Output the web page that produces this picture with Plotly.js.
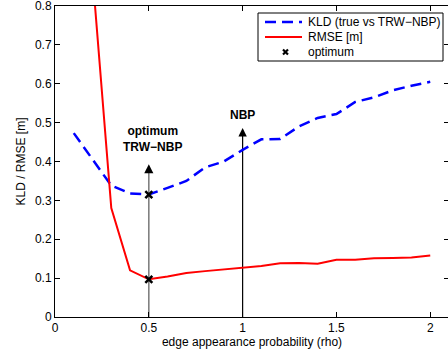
<!DOCTYPE html>
<html>
<head>
<meta charset="utf-8">
<script src="https://cdn.plot.ly/plotly-3.0.1.min.js"></script>
<style>
html,body{margin:0;padding:0;overflow:hidden;background:#fff;}
#chart{width:449px;height:356px;}
</style>
</head>
<body>
<div id="chart"></div>
<script>
const rhoKLD = [0.1,0.2,0.3,0.4,0.5,0.6,0.7,0.8,0.9,1.0,1.1,1.2,1.3,1.4,1.5,1.6,1.7,1.8,1.9,2.0];
const kld = [0.473,0.405,0.338,0.318,0.315,0.332,0.350,0.385,0.400,0.430,0.457,0.458,0.490,0.512,0.522,0.553,0.565,0.583,0.595,0.605];
const rhoRMSE = [0.2,0.3,0.4,0.5,0.6,0.7,0.8,0.9,1.0,1.1,1.2,1.3,1.4,1.5,1.6,1.7,1.8,1.9,2.0];
const rmse = [0.88,0.28,0.12,0.097,0.104,0.113,0.118,0.122,0.127,0.131,0.138,0.139,0.137,0.147,0.147,0.151,0.152,0.153,0.158];
const optX = [0.5,0.5];
const optY = [0.315,0.097];
const xTicks = [0,0.5,1,1.5,2];
const xTickText = ['0','0.5','1','1.5','2'];
const yTicks = [0,0.1,0.2,0.3,0.4,0.5,0.6,0.7,0.8];
const yTickText = ['0','0.1','0.2','0.3','0.4','0.5','0.6','0.7','0.8'];
const legendNames = ['KLD (true vs TRW\u2212NBP)', 'RMSE [m]', 'optimum'];

const font = 'Liberation Sans, Arial, Helvetica, sans-serif';
const blue = '#0000ff', red = '#ff0000';
const kldDash = '11px,6px';

const traces = [
  {x: rhoKLD, y: kld, mode: 'lines', name: legendNames[0],
   line: {color: blue, width: 2.5, dash: kldDash}},
  {x: rhoRMSE, y: rmse, mode: 'lines', name: legendNames[1],
   line: {color: red, width: 2}},
  {x: optX, y: optY, mode: 'markers', name: legendNames[2],
   marker: {symbol: 'x-thin', size: 7, color: '#000', line: {width: 2.5, color: '#000'}}}
];

// plot area in pixels (for the hand-built legend box)
const L = 55, R = 449, T = 6, B = 317;
const px = v => (v - L) / (R - L);
const py = v => 1 - (v - T) / (B - T);

const axisCommon = {
  showgrid: false, zeroline: false, showline: true, linecolor: '#000', linewidth: 1,
  mirror: 'ticks', ticks: 'inside', ticklen: 5, tickcolor: '#000',
  ticklabeloverflow: 'allow',
  tickfont: {family: font, size: 12, color: '#000'}
};

const rows = [22, 37, 52];
const shapes = [
  {type: 'line', xref: 'x', yref: 'y', x0: 0.5, x1: 0.5, y0: 0, y1: 0.385, line: {color: '#808080', width: 1.6}, layer: 'below'},
  {type: 'line', xref: 'x', yref: 'y', x0: 1, x1: 1, y0: 0, y1: 0.475, line: {color: '#000', width: 1.2}, layer: 'below'},
  // legend box
  {type: 'rect', xref: 'paper', yref: 'paper', x0: px(258), x1: px(443), y0: py(61), y1: py(13),
   line: {color: '#000', width: 1}, fillcolor: '#fff', layer: 'above'},
  {type: 'line', xref: 'paper', yref: 'paper', x0: px(265), x1: px(302), y0: py(rows[0]), y1: py(rows[0]),
   line: {color: blue, width: 2.5, dash: kldDash}, layer: 'above'},
  {type: 'line', xref: 'paper', yref: 'paper', x0: px(265), x1: px(302), y0: py(rows[1]), y1: py(rows[1]),
   line: {color: red, width: 2}, layer: 'above'},
  {type: 'line', xref: 'paper', yref: 'paper', x0: px(283), x1: px(288), y0: py(rows[2]-2.5), y1: py(rows[2]+2.5),
   line: {color: '#000', width: 2.2}, layer: 'above'},
  {type: 'line', xref: 'paper', yref: 'paper', x0: px(283), x1: px(288), y0: py(rows[2]+2.5), y1: py(rows[2]-2.5),
   line: {color: '#000', width: 2.2}, layer: 'above'}
];

const annotations = [
  {x: 0.5, y: 0.393, xref: 'x', yref: 'y', ax: 0, ay: 9, showarrow: true, arrowhead: 2, arrowsize: 1.4, arrowwidth: 1.3, arrowcolor: '#000', text: ''},
  {x: 1, y: 0.486, xref: 'x', yref: 'y', ax: 0, ay: 9, showarrow: true, arrowhead: 2, arrowsize: 1.4, arrowwidth: 1.2, arrowcolor: '#000', text: ''},
  {x: 0.52, y: 0.415, xref: 'x', yref: 'y', showarrow: false, align: 'center', yanchor: 'bottom',
   text: '<b>optimum<br>TRW\u2212NBP</b>', font: {family: font, size: 12, color: '#000'}},
  {x: 1, y: 0.52, xref: 'x', yref: 'y', showarrow: false, yanchor: 'middle',
   text: '<b>NBP</b>', font: {family: font, size: 12, color: '#000'}}
];
legendNames.forEach((name, i) => {
  annotations.push({x: px(306), y: py(rows[i]), xref: 'paper', yref: 'paper', xanchor: 'left', yanchor: 'middle',
    showarrow: false, text: name, font: {family: font, size: 12, color: '#000'}});
});

const layout = {
  width: 449, height: 356,
  margin: {l: 55, r: 0, t: 6, b: 39},
  paper_bgcolor: '#fff', plot_bgcolor: '#fff',
  showlegend: false,
  xaxis: Object.assign({}, axisCommon, {range: [0, 2.1], tickvals: xTicks, ticktext: xTickText,
    title: {text: 'edge appearance probability (rho)', font: {family: font, size: 12, color: '#000'}, standoff: 2}}),
  yaxis: Object.assign({}, axisCommon, {range: [0, 0.8], tickvals: yTicks, ticktext: yTickText,
    title: {text: 'KLD / RMSE [m]', font: {family: font, size: 12, color: '#000'}, standoff: 6}}),
  shapes: shapes,
  annotations: annotations
};

Plotly.newPlot('chart', traces, layout, {displayModeBar: false, staticPlot: true});
</script>
</body>
</html>
